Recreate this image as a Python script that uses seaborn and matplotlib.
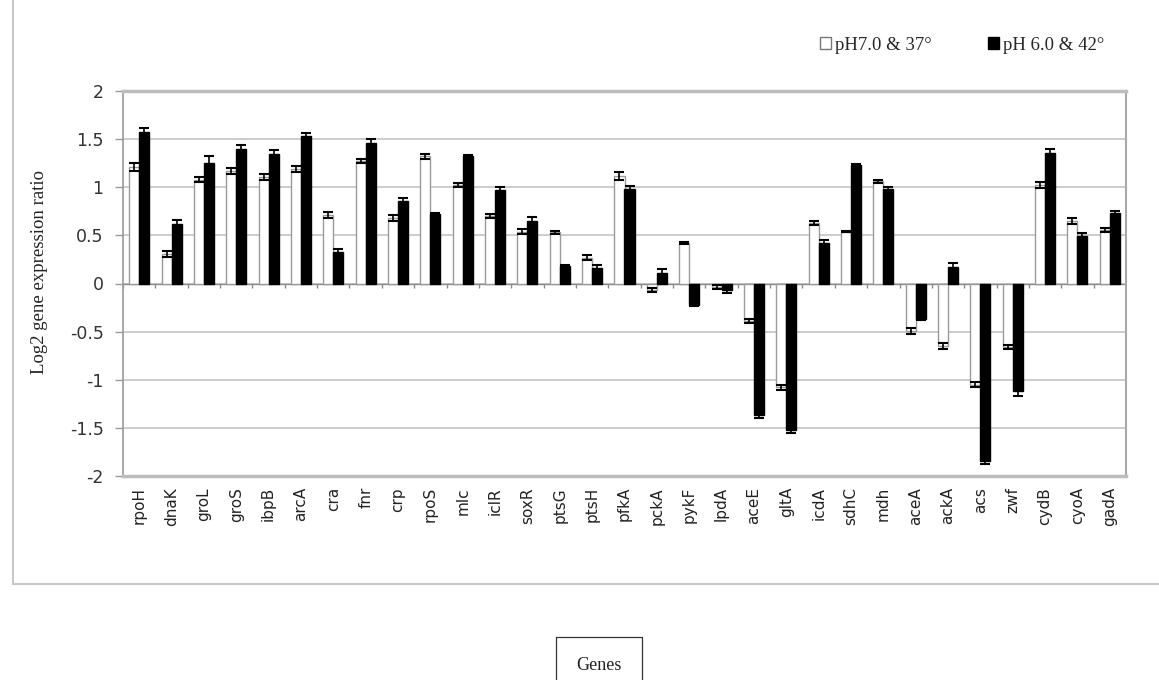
import numpy as np
import pandas as pd
import matplotlib
matplotlib.use("Agg")
import matplotlib.pyplot as plt
from matplotlib.patches import Patch
from matplotlib.lines import Line2D
import seaborn as sns

# Genes along the x axis
genes = ["rpoH", "dnaK", "groL", "groS", "ibpB", "arcA", "cra", "fnr", "crp",
         "rpoS", "mlc", "iclR", "soxR", "ptsG", "ptsH", "pfkA", "pckA", "pykF",
         "lpdA", "aceE", "gltA", "icdA", "sdhC", "mdh", "aceA", "ackA", "acs",
         "zwf", "cydB", "cyoA", "gadA"]

# Log2 expression ratios for the two culture conditions
ph7_37 = [1.21, 0.31, 1.08, 1.17, 1.11, 1.19, 0.71, 1.27, 0.68,
          1.32, 1.02, 0.70, 0.54, 0.53, 0.27, 1.12, -0.07, 0.42,
          -0.04, -0.39, -1.08, 0.63, 0.54, 1.06, -0.49, -0.65, -1.05,
          -0.66, 1.02, 0.65, 0.56]
ph6_42 = [1.57, 0.62, 1.25, 1.40, 1.35, 1.53, 0.33, 1.46, 0.86,
          0.72, 1.32, 0.97, 0.65, 0.18, 0.16, 0.98, 0.11, -0.22,
          -0.07, -1.37, -1.52, 0.42, 1.23, 0.98, -0.37, 0.17, -1.84,
          -1.12, 1.36, 0.49, 0.73]

# Standard errors
err_ph7_37 = [0.04, 0.03, 0.03, 0.03, 0.03, 0.03, 0.03, 0.02, 0.03,
              0.03, 0.02, 0.02, 0.03, 0.02, 0.03, 0.04, 0.02, 0.01,
              0.02, 0.02, 0.03, 0.02, 0.01, 0.02, 0.03, 0.03, 0.03,
              0.02, 0.03, 0.03, 0.02]
err_ph6_42 = [0.05, 0.04, 0.07, 0.04, 0.04, 0.03, 0.03, 0.04, 0.03,
              0.01, 0.01, 0.03, 0.04, 0.01, 0.03, 0.03, 0.04, 0.01,
              0.03, 0.03, 0.03, 0.03, 0.01, 0.02, 0.01, 0.04, 0.04,
              0.05, 0.04, 0.03, 0.02]

conditions = ["pH7.0 & 37\u00b0", "pH 6.0 & 42\u00b0"]

y_ticks = [-2, -1.5, -1, -0.5, 0, 0.5, 1, 1.5, 2]
y_tick_labels = ["-2", "-1.5", "-1", "-0.5", "0", "0.5", "1", "1.5", "2"]

df = pd.DataFrame({
    "gene": genes * 2,
    "ratio": ph7_37 + ph6_42,
    "condition": [conditions[0]] * len(genes) + [conditions[1]] * len(genes),
})

sns.set_theme(style="white")
serif = ["Liberation Serif", "DejaVu Serif"]
sans = ["DejaVu Sans"]

fig = plt.figure(figsize=(11.59, 6.8), dpi=100)
ax = fig.add_axes([123 / 1159, 1 - 476 / 680, (1126 - 123) / 1159, (476 - 91) / 680])

sns.barplot(data=df, x="gene", y="ratio", hue="condition", order=genes,
            hue_order=conditions, palette=["white", "black"], width=0.62,
            gap=0, errorbar=None, legend=False, ax=ax, zorder=3)

edge_colors = ["#9a9a9a", "black"]
errors = [err_ph7_37, err_ph6_42]
series = [ph7_37, ph6_42]
for cont, ec, err, vals in zip(ax.containers, edge_colors, errors, series):
    xs = []
    for p in cont.patches:
        p.set_edgecolor(ec)
        p.set_linewidth(1.0)
        xs.append(p.get_x() + p.get_width() / 2)
    ax.errorbar(xs, vals, yerr=err, fmt="none", ecolor="black",
                elinewidth=1.2, capsize=3.5, capthick=1.5, zorder=4)

# Category axis at zero with boundary tick marks
n = len(genes)
ax.axhline(0, color="#8c8c8c", lw=1.0, zorder=2)
ax.vlines(np.arange(n + 1) - 0.5, -0.05, 0, color="#8c8c8c", lw=1.0, zorder=2)

ax.set_xlim(-0.5, n - 0.5)
ax.set_ylim(-2, 2)
ax.set_yticks(y_ticks)
ax.set_yticklabels(y_tick_labels, family=sans, fontsize=12.5, color="#333333")
ax.yaxis.grid(True, color="#c4c4c4", lw=1.2, zorder=0)
ax.set_axisbelow(True)
ax.tick_params(axis="y", left=True, length=6, width=1, color="#999999", pad=8)
ax.tick_params(axis="x", bottom=False, length=0, pad=8)
ax.set_xticks(range(n))
ax.set_xticklabels(genes, rotation=90, family=sans, fontsize=11, color="#222222",
                   va="top", ha="center")
ax.set_xlabel("")
ax.set_ylabel("")

for side, col, lw in [("top", "#bdbdbd", 2.5), ("bottom", "#bdbdbd", 2.5),
                      ("left", "#9a9a9a", 1.2), ("right", "#a8a8a8", 1.5)]:
    ax.spines[side].set_visible(True)
    ax.spines[side].set_color(col)
    ax.spines[side].set_linewidth(lw)

fig.text(40 / 1159, 1 - 272 / 680, "Log2 gene expression ratio", rotation=90,
         ha="center", va="center", family=serif, fontsize=13.5, color="#222222")

# Chart area border
fig.add_artist(Line2D([13 / 1159, 13 / 1159], [1 - 584 / 680, 1.0],
                      transform=fig.transFigure, color="#c8c8c8", lw=1.5))
fig.add_artist(Line2D([13 / 1159, 1.0], [1 - 584 / 680, 1 - 584 / 680],
                      transform=fig.transFigure, color="#c8c8c8", lw=1.5))

handles = [Patch(facecolor="white", edgecolor="#777777", label=conditions[0]),
           Patch(facecolor="black", edgecolor="black", label=conditions[1])]
fig.legend(handles=handles, loc="center", bbox_to_anchor=(962 / 1159, 1 - 45 / 680),
           ncol=2, frameon=False, handlelength=0.6, handleheight=0.6,
           handletextpad=0.2, columnspacing=3.0,
           prop={"family": serif, "size": 13.5})

fig.text(599 / 1159, 1 - 665 / 680, "Genes", ha="center", va="center",
         family=serif, fontsize=13, color="#222222",
         bbox=dict(boxstyle="square,pad=1.1", facecolor="white",
                   edgecolor="#333333", lw=0.9))

fig.savefig("out.png", dpi=100, facecolor="white")
